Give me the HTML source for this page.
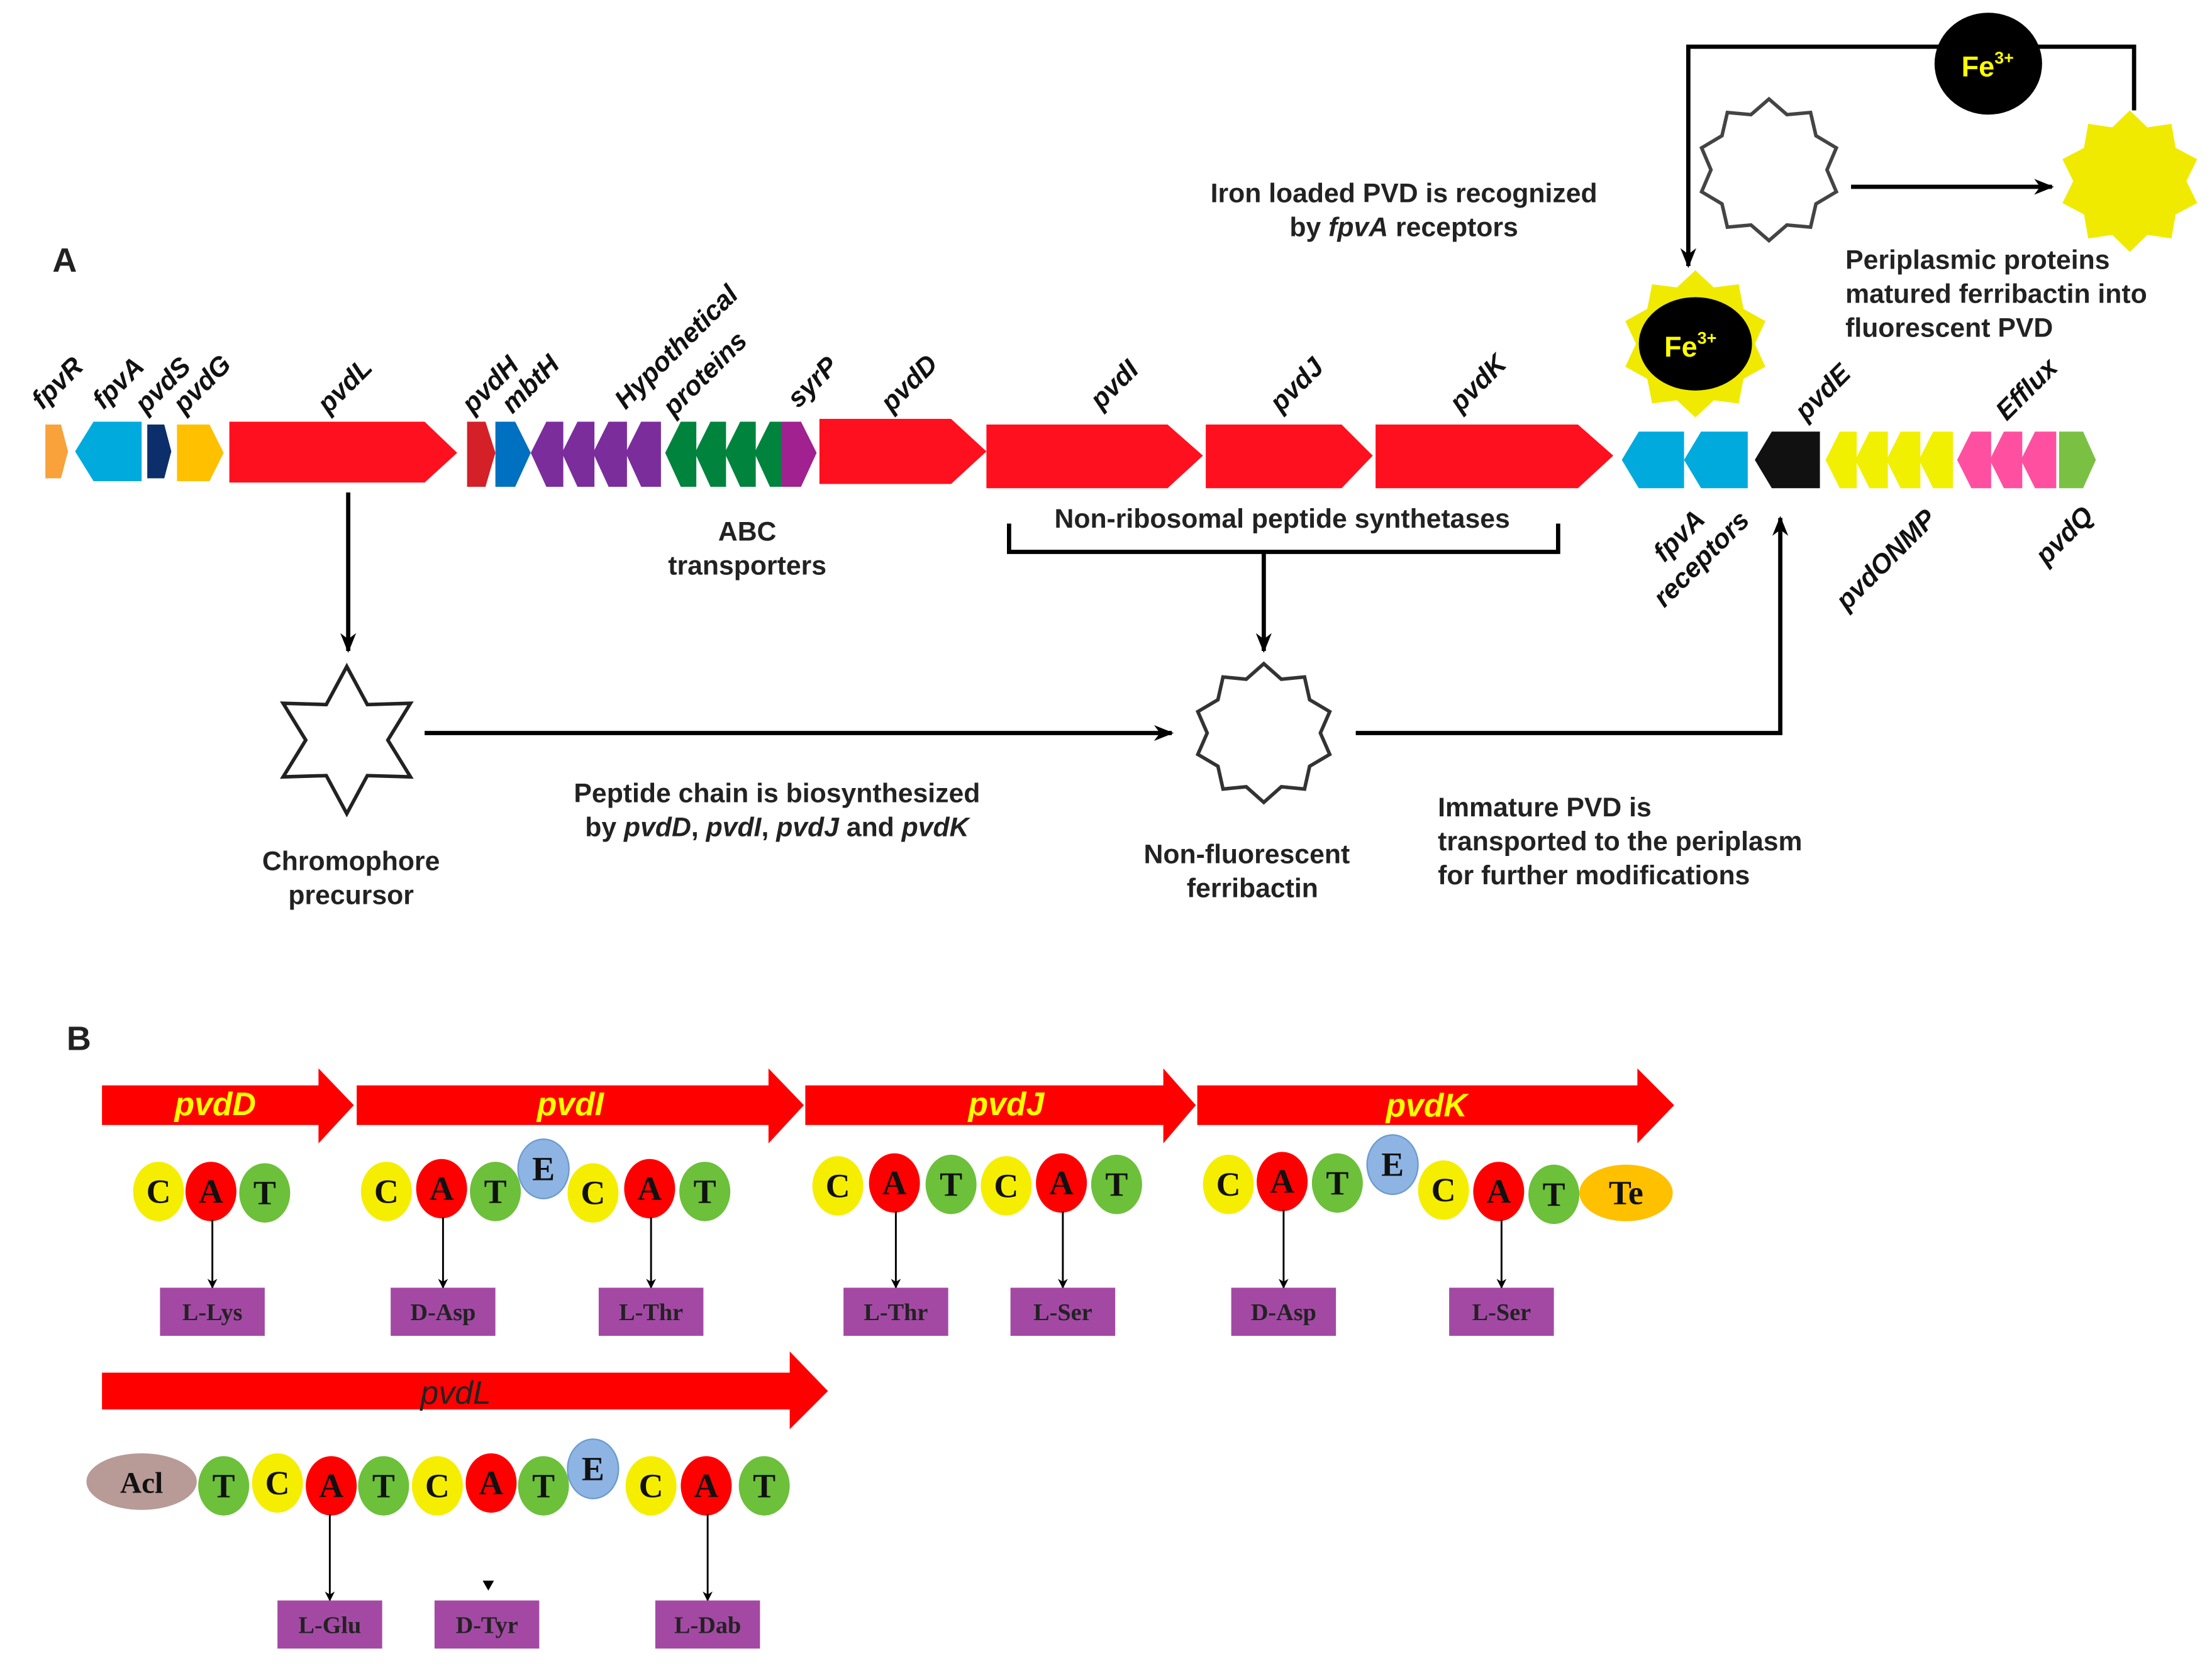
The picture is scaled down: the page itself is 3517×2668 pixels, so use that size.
<!DOCTYPE html>
<html><head><meta charset="utf-8">
<style>
html,body{margin:0;padding:0;background:#fff;}
svg{display:block;}
.t{font-family:"Liberation Sans",Arial,sans-serif;font-weight:bold;font-size:19px;fill:#222;}
.g{font-family:"Liberation Sans",Arial,sans-serif;font-style:italic;font-weight:bold;font-size:19px;fill:#111;}
.s{font-family:"Liberation Serif",serif;font-weight:bold;font-size:24px;fill:#111;text-anchor:middle;}
.b{font-family:"Liberation Serif",serif;font-weight:bold;font-size:17px;fill:#222;text-anchor:middle;}
.y{font-family:"Liberation Sans",Arial,sans-serif;font-style:italic;font-weight:bold;font-size:23px;fill:#ffff00;text-anchor:middle;}
</style></head><body>
<svg id="sv" width="3517" height="2668" viewBox="0 0 1563 1185.8" xmlns="http://www.w3.org/2000/svg">
<defs>
<marker id="ar" viewBox="0 0 10 10" refX="9" refY="5" markerWidth="7" markerHeight="7" orient="auto" markerUnits="userSpaceOnUse"><path d="M0,0 L10,5 L0,10 L3,5 z" fill="#000"/></marker>
<marker id="ar2" viewBox="0 0 10 10" refX="9" refY="5" markerWidth="14" markerHeight="14" orient="auto" markerUnits="userSpaceOnUse"><path d="M0,1 L10,5 L0,9 L3,5 z" fill="#000"/></marker>
</defs>
<g id="stars"></g>

<!-- A -->
<text x="37" y="192" class="t" style="font-size:24px">A</text>

<!-- gene row -->
<polygon points="32,300 43,300 48,319 43,338 32,338" fill="#f9a13a"/>
<polygon points="53,319 66,298 100,298 100,340 66,340" fill="#00aadd"/>
<polygon points="104,300 116,300 121,319 116,338 104,338" fill="#0c2e6b"/>
<polygon points="125,300 148,300 158,320 148,340 125,340" fill="#ffc000"/>
<polygon points="162,298 300,298 323,320 300,341 162,341" fill="#ff101e"/>
<polygon points="330,298 343,298 350,320 343,344 330,344" fill="#d42027"/>
<polygon points="350,298 364,298 375,320 364,344 350,344" fill="#0070c0"/>
<g fill="#7b2d9c">
<polygon points="375,320 386,298 398,298 398,344 386,344"/>
<polygon points="397,320 408,298 420,298 420,344 408,344"/>
<polygon points="419,320 430,298 443,298 443,344 430,344"/>
<polygon points="442,320 453,298 467,298 467,344 453,344"/>
</g>
<g fill="#00843d">
<polygon points="470,320 481,298 492,298 492,344 481,344"/>
<polygon points="491,320 502,298 513,298 513,344 502,344"/>
<polygon points="512,320 523,298 534,298 534,344 523,344"/>
<polygon points="533,320 544,298 553,298 553,344 544,344"/>
</g>
<polygon points="552,298 566,298 577,320 566,344 552,344" fill="#a0218f"/>
<polygon points="579,296 672,296 697,319 672,342 579,342" fill="#ff101e"/>
<polygon points="697,300 825,300 850,322 825,345 697,345" fill="#ff101e"/>
<polygon points="852,300 948,300 970,322 948,345 852,345" fill="#ff101e"/>
<polygon points="972,300 1115,300 1140,322 1115,345 972,345" fill="#ff101e"/>
<polygon points="1146,325 1158,305 1190,305 1190,345 1158,345" fill="#00aadd"/>
<polygon points="1190,325 1202,305 1235,305 1235,345 1202,345" fill="#00aadd"/>
<polygon points="1240,325 1252,305 1286,305 1286,345 1252,345" fill="#111"/>
<g fill="#f0f000">
<polygon points="1290,325 1300,305 1312,305 1312,345 1300,345"/>
<polygon points="1311,325 1321,305 1334,305 1334,345 1321,345"/>
<polygon points="1333,325 1343,305 1357,305 1357,345 1343,345"/>
<polygon points="1356,325 1366,305 1380,305 1380,345 1366,345"/>
</g>
<g fill="#ff4fa0">
<polygon points="1383,325 1393,305 1407,305 1407,345 1393,345"/>
<polygon points="1406,325 1416,305 1429,305 1429,345 1416,345"/>
<polygon points="1428,325 1438,305 1453,305 1453,345 1438,345"/>
</g>
<polygon points="1455,305 1472,305 1481,325 1472,345 1455,345" fill="#7ac143"/>

<!-- gene labels -->
<g class="g">
<text transform="translate(30,290) rotate(-45)">fpvR</text>
<text transform="translate(73,290) rotate(-45)">fpvA</text>
<text transform="translate(103,293) rotate(-45)">pvdS</text>
<text transform="translate(130,293) rotate(-45)">pvdG</text>
<text transform="translate(232,293) rotate(-45)">pvdL</text>
<text transform="translate(334,293) rotate(-45)">pvdH</text>
<text transform="translate(362,293) rotate(-45)">mbtH</text>
<text transform="translate(442,290) rotate(-45)">Hypothetical</text>
<text transform="translate(476,295) rotate(-45)">proteins</text>
<text transform="translate(564,289) rotate(-45)">syrP</text>
<text transform="translate(630,292) rotate(-45)">pvdD</text>
<text transform="translate(778,290) rotate(-45)">pvdI</text>
<text transform="translate(905,292) rotate(-45)">pvdJ</text>
<text transform="translate(1032,292) rotate(-45)">pvdK</text>
<text transform="translate(1276,298) rotate(-45)">pvdE</text>
<text transform="translate(1418,298) rotate(-45)">Efflux</text>
<text transform="translate(1176,398) rotate(-45)">fpvA</text>
<text transform="translate(1176,430) rotate(-45)">receptors</text>
<text transform="translate(1305,432) rotate(-45)">pvdONMP</text>
<text transform="translate(1446,400) rotate(-45)">pvdQ</text>
</g>

<!-- texts -->
<g class="t" text-anchor="middle">
<text x="528" y="382">ABC</text>
<text x="528" y="406">transporters</text>
<text x="906" y="373">Non-ribosomal peptide synthetases</text>
<text x="248" y="615">Chromophore</text>
<text x="248" y="639">precursor</text>
<text x="549" y="567">Peptide chain is biosynthesized</text>
<text x="549" y="591">by <tspan font-style="italic">pvdD</tspan>, <tspan font-style="italic">pvdI</tspan>, <tspan font-style="italic">pvdJ</tspan> and <tspan font-style="italic">pvdK</tspan></text>
<text x="881" y="610">Non-fluorescent</text>
<text x="885" y="634">ferribactin</text>
<text x="992" y="143">Iron loaded PVD is recognized</text>
<text x="992" y="167">by <tspan font-style="italic">fpvA</tspan> receptors</text>
</g>
<g class="t">
<text x="1016" y="577">Immature PVD is</text>
<text x="1016" y="601">transported to the periplasm</text>
<text x="1016" y="625">for further modifications</text>
<text x="1304" y="190">Periplasmic proteins</text>
<text x="1304" y="214">matured ferribactin into</text>
<text x="1304" y="238">fluorescent PVD</text>
</g>

<!-- connectors A -->
<g stroke="#000" stroke-width="3" fill="none">
<line x1="246" y1="348" x2="246" y2="460" marker-end="url(#ar2)"/>
<polyline points="713,370 713,390 1101,390 1101,370"/>
<line x1="893" y1="390" x2="893" y2="460" marker-end="url(#ar2)"/>
<line x1="300" y1="518" x2="828" y2="518" marker-end="url(#ar2)"/>
<polyline points="958,518 1258,518 1258,366" marker-end="url(#ar2)"/>
<polyline points="1508,78 1508,33 1193,33 1193,188" marker-end="url(#ar2)"/>
<line x1="1308" y1="132" x2="1450" y2="132" marker-end="url(#ar2)"/>
</g>
<ellipse cx="1405" cy="45" rx="38" ry="36" fill="#000"/>
<text x="1386" y="54" class="t" style="fill:#ffff00;font-size:20px">Fe<tspan font-size="12" dy="-9">3+</tspan></text>
<ellipse cx="1198" cy="243" rx="40" ry="33" fill="#000" id="fe2"/>
<text x="1176" y="252" class="t" style="fill:#ffff00;font-size:20px">Fe<tspan font-size="12" dy="-9">3+</tspan></text>

<!-- B -->
<text x="47" y="742" class="t" style="font-size:24px">B</text>
<g fill="#ff0000">
<polygon points="72,767 225,767 225,755 250,781 225,808 225,795 72,795"/>
<polygon points="252,767 543,767 543,755 568,781 543,808 543,795 252,795"/>
<polygon points="569,767 822,767 822,755 845,781 822,808 822,795 569,795"/>
<polygon points="846,767 1157,767 1157,755 1183,781 1157,808 1157,795 846,795"/>
<polygon points="72,970 558,970 558,955 585,983 558,1010 558,996 72,996"/>
</g>
<text x="152" y="788" class="y">pvdD</text>
<text x="403" y="788" class="y">pvdI</text>
<text x="711" y="788" class="y">pvdJ</text>
<text x="1008" y="789" class="y">pvdK</text>
<text x="322" y="992" class="y" style="fill:#222;font-weight:normal">pvdL</text>
<g id="mods"></g>
</svg>
<script>
var NS="http://www.w3.org/2000/svg";
function el(p,t,a,txt){var e=document.createElementNS(NS,t);for(var k in a)e.setAttribute(k,a[k]);if(txt)e.textContent=txt;p.appendChild(e);return e;}
function star(cx,cy,n,ro,ri,rot){var p=[];for(var i=0;i<2*n;i++){var r=i%2?ri:ro;var a=rot+Math.PI*i/n;p.push((cx+r*Math.sin(a)).toFixed(1)+","+(cy-r*Math.cos(a)).toFixed(1));}return p.join(" ");}
var S=document.getElementById("stars");
el(S,"polygon",{points:star(245,523,6,52,29,0),fill:"#fff",stroke:"#222","stroke-width":2.5});
el(S,"polygon",{points:star(893,518,10,49,40,0),fill:"#fff",stroke:"#333","stroke-width":2.5});
el(S,"polygon",{points:star(1250,120,10,50,41,0),fill:"#fff",stroke:"#444","stroke-width":2.5});
el(S,"polygon",{points:star(1505,128,10,50,40,0),fill:"#f0ea00"});
el(S,"polygon",{points:star(1198,243,10,52,42,0),fill:"#f0ea00"});
var M=document.getElementById("mods");
var col={C:"#f5ee00",A:"#ff0000",T:"#6cc03a",E:"#8eb4e3"};
function mod(x,y,l){var e=el(M,"ellipse",{cx:x,cy:y,rx:18,ry:21,fill:col[l]});if(l=="E")e.setAttribute("stroke","#6a9ad0");el(M,"text",{x:x,y:y+8,"class":"s"},l);}
function box(x,y,l,ay){el(M,"line",{x1:x,y1:ay,x2:x,y2:y,stroke:"#000","stroke-width":1.3,"marker-end":"url(#ar)"});el(M,"rect",{x:x-37,y:y,width:74,height:34,fill:"#a349a4"});el(M,"text",{x:x,y:y+23,"class":"b"},l);}
var r1=[[112,842,"C"],[149,842,"A"],[187,843,"T"],[273,842,"C"],[312,840,"A"],[350,842,"T"],[384,826,"E"],[419,843,"C"],[459,840,"A"],[498,842,"T"],[592,838,"C"],[632,836,"A"],[672,837,"T"],[711,838,"C"],[750,836,"A"],[789,837,"T"],[868,837,"C"],[906,835,"A"],[945,836,"T"],[984,823,"E"],[1020,841,"C"],[1059,842,"A"],[1098,844,"T"],[158,1050,"T"],[196,1048,"C"],[234,1050,"A"],[271,1050,"T"],[309,1050,"C"],[347,1048,"A"],[384,1050,"T"],[419,1038,"E"],[460,1050,"C"],[499,1050,"A"],[540,1050,"T"]];
el(M,"ellipse",{cx:1149,cy:843,rx:33,ry:20,fill:"#ffc000"});el(M,"text",{x:1149,y:851,"class":"s"},"Te");
el(M,"ellipse",{cx:100,cy:1047,rx:39,ry:20,fill:"#b89a96"});el(M,"text",{x:100,y:1055,"class":"s",style:"font-size:21px"},"Acl");
r1.forEach(function(a){mod(a[0],a[1],a[2]);});
box(150,910,"L-Lys",862);box(313,910,"D-Asp",860);box(460,910,"L-Thr",860);box(633,910,"L-Thr",856);box(751,910,"L-Ser",856);box(907,910,"D-Asp",855);box(1061,910,"L-Ser",862);
box(233,1131,"L-Glu",1070);box(500,1131,"L-Dab",1070);
el(M,"rect",{x:307,y:1131,width:74,height:34,fill:"#a349a4"});el(M,"text",{x:344,y:1154,"class":"b"},"D-Tyr");
el(M,"path",{d:"M341,1117 L349,1117 L345,1124 z",fill:"#000"});
</script>
</body></html>
